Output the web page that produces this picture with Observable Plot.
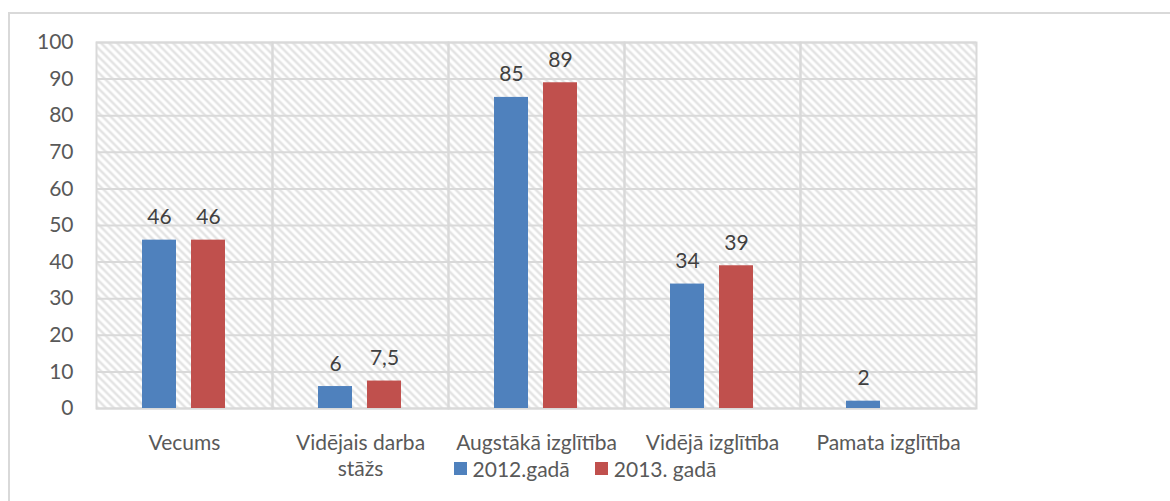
<!DOCTYPE html>
<html>
<head>
<meta charset="utf-8">
<script src="https://cdn.jsdelivr.net/npm/d3@7"></script>
<script src="https://cdn.jsdelivr.net/npm/@observablehq/plot@0.6"></script>
<style>
  html, body { margin: 0; padding: 0; background: #fff; overflow: hidden; width: 1170px; height: 501px; }
  #frame { position: absolute; left: 8px; top: 12px; width: 1200px; height: 600px; border: 2px solid #d9d9d9; box-sizing: border-box; }
  #chart { position: absolute; left: 0; top: 0; }
  #legend { position: absolute; left: 0; top: 456px; width: 1170px; display: flex; justify-content: center; gap: 25px;
            font-family: Lato, "Open Sans", sans-serif; font-size: 21px; color: #595959; transform: translateX(0px); }
  #legend span.item { display: flex; align-items: center; gap: 6px; }
  #legend span.sw { display: inline-block; width: 13px; height: 13px; }
</style>
</head>
<body>
<div id="frame"></div>
<div id="chart"></div>
<div id="legend"></div>
<script>
const categories = ["Vecums", "Vidējais darba stāžs", "Augstākā izglītība", "Vidējā izglītība", "Pamata izglītība"];
const categoryLabels = ["Vecums", "Vidējais darba\nstāžs", "Augstākā izglītība", "Vidējā izglītība", "Pamata izglītība"];
const seriesNames = ["2012.gadā", "2013. gadā"];
const values2012 = [46, 6, 85, 34, 2];
const values2013 = [46, 7.5, 89, 39, null];
const yTicks = [0, 10, 20, 30, 40, 50, 60, 70, 80, 90, 100];
const colors = ["#4F81BD", "#C0504D"];

const data = [];
categories.forEach((c, i) => {
  if (values2012[i] != null) data.push({category: c, series: seriesNames[0], value: values2012[i]});
  if (values2013[i] != null) data.push({category: c, series: seriesNames[1], value: values2013[i]});
});
const labelOf = new Map(categories.map((c, i) => [c, categoryLabels[i]]));
const fmt = v => String(v).replace(".", ",");
const font = 'Lato, "Open Sans", sans-serif';

const chart = Plot.plot({
  width: 1170,
  height: 501,
  marginLeft: 94,
  marginRight: 193,
  marginTop: 42,
  marginBottom: 93,
  style: {fontFamily: font, fontSize: "21px", color: "#595959", background: "transparent"},
  fx: {domain: categories, padding: 0, label: null, axis: null},
  x: {domain: seriesNames, paddingInner: 0.3, paddingOuter: 0.916, axis: null},
  y: {domain: [0, 100], ticks: yTicks, label: null, axis: null},
  color: {domain: seriesNames, range: colors},
  marks: [
    Plot.frame({fill: "url(#hatch)", stroke: null}),
    Plot.gridY(yTicks, {stroke: "#d9d9d9", strokeOpacity: 1, strokeWidth: 2}),
    Plot.frame({stroke: "#d9d9d9", strokeWidth: 2}),
    Plot.axisY({ticks: yTicks, anchor: "left", tickSize: 0, tickPadding: 23, fontSize: 21, fill: "#595959", label: null}),
    Plot.axisFx({anchor: "bottom", tickSize: 0, tickPadding: 23, fontSize: 21, fill: "#595959", lineHeight: 1.24,
      tickFormat: d => labelOf.get(d), label: null}),
    Plot.barY(data, {fx: "category", x: "series", y: "value", fill: "series"}),
    Plot.text(data, {fx: "category", x: "series", y: "value", text: d => fmt(d.value), lineAnchor: "bottom", dy: -16, fontSize: 21, fill: "#404040"})
  ]
});

// hatch pattern
const svgNS = "http://www.w3.org/2000/svg";
const defs = document.createElementNS(svgNS, "defs");
defs.innerHTML = `<pattern id="hatch" patternUnits="userSpaceOnUse" width="8" height="8">
  <rect width="8" height="8" fill="#ffffff"/>
  <path d="M-2,-2 L10,10 M-2,6 L2,10 M6,-2 L10,2" stroke="#e2e2e2" stroke-width="2.4"/>
</pattern>`;
chart.insertBefore(defs, chart.firstChild);
document.getElementById("chart").appendChild(chart);

// legend
const legend = document.getElementById("legend");
seriesNames.forEach((s, i) => {
  const item = document.createElement("span");
  item.className = "item";
  const sw = document.createElement("span");
  sw.className = "sw";
  sw.style.background = colors[i];
  const t = document.createElement("span");
  t.textContent = s;
  item.appendChild(sw);
  item.appendChild(t);
  legend.appendChild(item);
});
</script>
</body>
</html>
